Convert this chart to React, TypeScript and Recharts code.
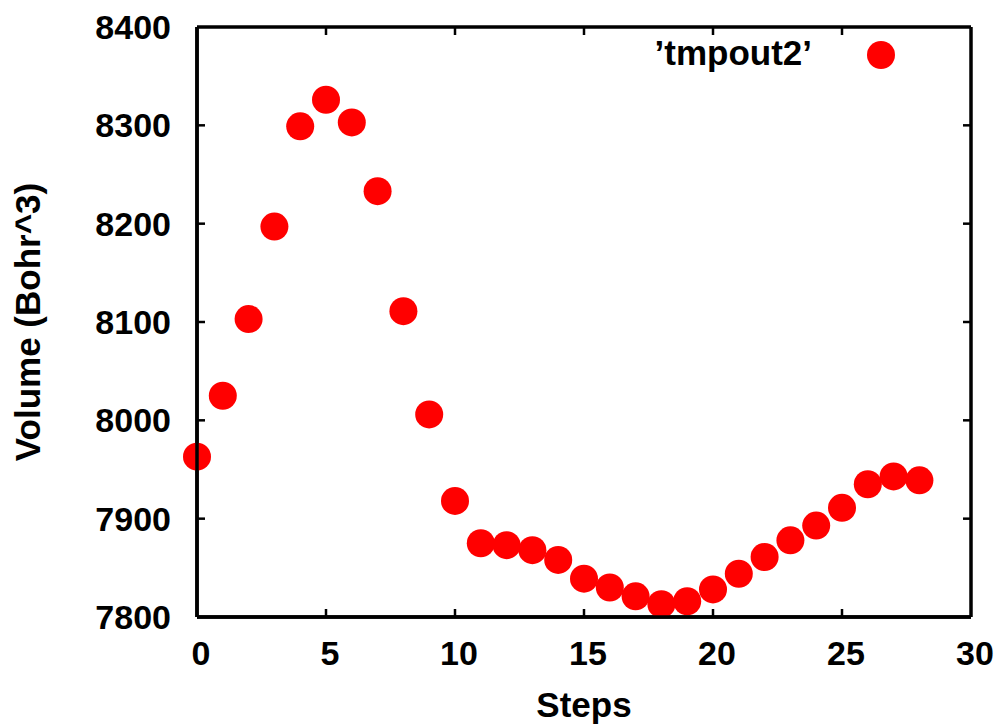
import { ScatterChart, Scatter, XAxis, YAxis, Legend, ReferenceLine } from "recharts";

// step index and volume (Bohr^3)
const steps = [0, 1, 2, 3, 4, 5, 6, 7, 8, 9, 10, 11, 12, 13, 14, 15, 16, 17, 18, 19, 20, 21, 22, 23, 24, 25, 26, 27, 28];
const volumes = [
  7963, 8025, 8103, 8197, 8299, 8326, 8303, 8233, 8111, 8006,
  7918, 7875, 7873, 7868, 7858, 7839, 7830, 7821, 7813, 7816,
  7828, 7844, 7861, 7878, 7893, 7911, 7935, 7943, 7939,
];
const xTicks = [0, 5, 10, 15, 20, 25, 30];
const yTicks = [7800, 7900, 8000, 8100, 8200, 8300, 8400];
const seriesName = "\u2019tmpout2\u2019";

const data = steps.map((s, i) => ({ step: s, volume: volumes[i] }));

const FONT = '"Liberation Sans", Arial, Helvetica, sans-serif';
const RED = "#ff0000";
const TICK = 8;

const lineStyle = { stroke: "#000", strokeWidth: 3.5 };
const textProps = { fontFamily: FONT, fontWeight: 700, fill: "#000" };

const BottomLabel = ({ x, y, payload }: any) => (
  <text x={x + 4} y={y + 48} textAnchor="middle" fontSize={34} {...textProps}>
    {payload.value}
  </text>
);
const LeftLabel = ({ x, y, payload }: any) => (
  <text x={x - 26} y={y + 12} textAnchor="end" fontSize={34} {...textProps}>
    {payload.value}
  </text>
);

// gnuplot style: short inward ticks on both ends of each grid position
const InTicks = ({ x1, y1, x2, y2 }: any) => {
  if (Math.abs(x1 - x2) < 0.5) {
    const top = Math.min(y1, y2);
    const bot = Math.max(y1, y2);
    return (
      <g stroke="#000" strokeWidth={2.5}>
        <line x1={x1} y1={top} x2={x1} y2={top + TICK} />
        <line x1={x1} y1={bot} x2={x1} y2={bot - TICK} />
      </g>
    );
  }
  const left = Math.min(x1, x2);
  const right = Math.max(x1, x2);
  return (
    <g stroke="#000" strokeWidth={2.5}>
      <line x1={left} y1={y1} x2={left + TICK} y2={y1} />
      <line x1={right} y1={y1} x2={right - TICK} y2={y1} />
    </g>
  );
};

const Dot = (props: any) => <circle cx={props.cx} cy={props.cy} r={14} fill={RED} />;

const LegendBox = () => (
  <svg width={270} height={60}>
    <text x={172} y={40} textAnchor="end" fontSize={35} {...textProps}>
      {seriesName}
    </text>
    <circle cx={241} cy={30} r={14} fill={RED} />
  </svg>
);

export default function App() {
  return (
    <div style={{ position: "absolute", left: 0, top: 0, background: "#fff" }}>
      <ScatterChart width={998} height={727} margin={{ top: 27, right: 27, bottom: 0, left: 0 }}>
        <XAxis
          dataKey="step"
          type="number"
          domain={[0, 30]}
          ticks={xTicks}
          height={110}
          axisLine={lineStyle}
          tickLine={false}
          tickSize={0}
          tickMargin={0}
          tick={<BottomLabel />}
          label={{
            content: (p: any) => (
              <text x={p.viewBox.x + p.viewBox.width / 2} y={717} textAnchor="middle" fontSize={35} {...textProps}>
                Steps
              </text>
            ),
          }}
        />
        <YAxis
          dataKey="volume"
          type="number"
          domain={[7800, 8400]}
          ticks={yTicks}
          width={197}
          axisLine={lineStyle}
          tickLine={false}
          tickSize={0}
          tickMargin={0}
          tick={<LeftLabel />}
          label={{
            content: (p: any) => {
              const cy = p.viewBox.y + p.viewBox.height / 2;
              return (
                <text
                  x={40}
                  y={cy}
                  transform={`rotate(-90, 40, ${cy})`}
                  textAnchor="middle"
                  fontSize={35}
                  {...textProps}
                >
                  Volume (Bohr^3)
                </text>
              );
            },
          }}
        />
        <Legend
          layout="horizontal"
          verticalAlign="middle"
          align="center"
          content={() => <LegendBox />}
          wrapperStyle={{ position: "absolute", left: 640, top: 25, width: 270 }}
        />
        <Scatter data={data} name={seriesName} fill={RED} shape={Dot} isAnimationActive={false} />
        {/* frame drawn over the points, as gnuplot does */}
        <ReferenceLine x={0} stroke="#000" strokeWidth={3.5} zIndex={1000} />
        <ReferenceLine y={7800} stroke="#000" strokeWidth={3.5} zIndex={1000} />
        <ReferenceLine y={8400} stroke="#000" strokeWidth={3.5} zIndex={1000} />
        <ReferenceLine x={30} stroke="#000" strokeWidth={3.5} zIndex={1000} />
        {xTicks.slice(1, -1).map((t) => (
          <ReferenceLine key={`x${t}`} x={t} shape={<InTicks />} zIndex={1000} />
        ))}
        {yTicks.slice(1, -1).map((t) => (
          <ReferenceLine key={`y${t}`} y={t} shape={<InTicks />} zIndex={1000} />
        ))}
      </ScatterChart>
    </div>
  );
}
